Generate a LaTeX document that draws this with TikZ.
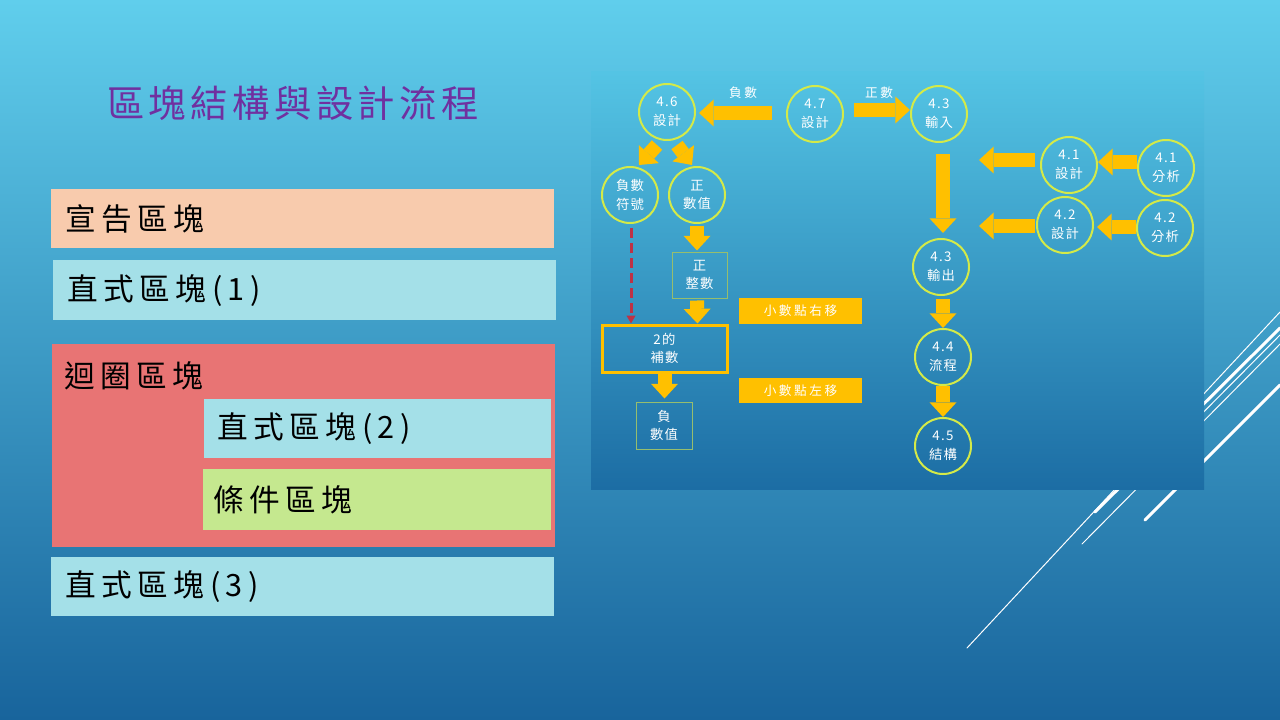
\documentclass[tikz,border=0pt]{standalone}
\usepackage{fontspec}
\setmainfont{Noto Sans CJK TC}
\newfontfamily\cjkBox[LetterSpace=18]{Noto Sans CJK TC}
\newfontfamily\cjkTitle[LetterSpace=12]{Noto Sans CJK TC}
\newfontfamily\cjkSmall[LetterSpace=10]{Noto Sans CJK TC}
\newfontfamily\cjkLab[LetterSpace=20]{Noto Sans CJK TC}
\usetikzlibrary{arrows.meta,calc}
\definecolor{bgtop}{RGB}{96,206,236}
\definecolor{bgmid}{RGB}{54,152,202}
\definecolor{bgbot}{RGB}{24,100,156}
\definecolor{pantop}{RGB}{84,196,228}
\definecolor{panbot}{RGB}{28,109,164}
\definecolor{peach}{RGB}{248,203,173}
\definecolor{lcyan}{RGB}{164,224,232}
\definecolor{salmon}{RGB}{232,116,116}
\definecolor{lgreen}{RGB}{197,232,143}
\definecolor{titlec}{RGB}{112,48,160}
\definecolor{arrowc}{RGB}{255,192,0}
\definecolor{ringc}{RGB}{212,234,72}
\definecolor{thinedge}{RGB}{150,190,110}
\definecolor{dashc}{RGB}{190,50,70}
\tikzset{
  blk/.style={rectangle, inner sep=0pt, anchor=north west, align=left, text=black,
    font=\cjkBox\fontsize{23pt}{27pt}\selectfont},
  circ/.style={circle, draw=ringc, line width=1.5pt, minimum size=42pt, inner sep=0pt,
    text=white, align=center, font=\cjkSmall\fontsize{10pt}{14pt}\selectfont},
  sbox/.style={rectangle, draw=thinedge, line width=0.75pt, inner sep=0pt,
    text=white, align=center, font=\cjkSmall\fontsize{10pt}{14pt}\selectfont},
  olab/.style={rectangle, fill=arrowc, inner sep=0pt, minimum width=92.25pt, minimum height=19.5pt,
    text=white, font=\cjkLab\fontsize{9.5pt}{12pt}\selectfont},
  tlab/.style={text=white, inner sep=0pt, font=\cjkLab\fontsize{9.5pt}{12pt}\selectfont},
  barrow/.style={draw=arrowc, line width=10.5pt,
    -{Triangle[width=20.25pt,length=11pt,line width=0pt]}},
  deco/.style={draw=white, line cap=round},
}
\begin{document}
\begin{tikzpicture}[x=0.75pt,y=-0.75pt]
\useasboundingbox (0,0) rectangle (1280,720);
\shade[top color=bgtop, middle color=bgmid, bottom color=bgbot] (0,0) rectangle (1280,720);

% decorative lines
\draw[deco, line width=0.75pt] (967,648) -- (1280,312);
\draw[deco, line width=2.25pt] (1145,520) -- (1280,385);
\draw[deco, line width=2.25pt] (1095,512) -- (1280,328);
\draw[deco, line width=0.75pt] (1082,544) -- (1280,344);
\draw[deco, line width=0.75pt] (1150,466) -- (1280,335);

% diagram panel
\shade[top color=pantop, bottom color=panbot] (591,72) rectangle (1204,489);

% title
\node[text=titlec, font=\cjkTitle\fontsize{28pt}{32pt}\selectfont] (title) at (293,103) {區塊結構與設計流程};

% left blocks
\node[blk, fill=peach, minimum width=377.25pt, minimum height=44.25pt, text width=356.25pt, inner xsep=10.5pt]
  (decl) at (51,189) {宣告區塊};
\node[blk, fill=lcyan, minimum width=377.25pt, minimum height=45pt, text width=356.25pt, inner xsep=10.5pt]
  (seq1) at (53,260) {直式區塊(1)};
\node[blk, fill=salmon, minimum width=377.25pt, minimum height=152.25pt] (loop) at (52,344) {};
\node[blk, anchor=west] (looplbl) at (64,376) {迴圈區塊};
\node[blk, fill=lcyan, minimum width=260.25pt, minimum height=44.25pt, text width=240.75pt, inner xsep=9.75pt]
  (seq2) at (204,399) {直式區塊(2)};
\node[blk, fill=lgreen, minimum width=261pt, minimum height=45.75pt, text width=246pt, inner xsep=7.5pt]
  (cond) at (203,469) {條件區塊};
\node[blk, fill=lcyan, minimum width=377.25pt, minimum height=44.25pt, text width=356.25pt, inner xsep=10.5pt]
  (seq3) at (51,557) {直式區塊(3)};

% diagram nodes
\node[circ] (n46) at (667,112) {4.6\\設計};
\node[circ] (n47) at (815,114) {4.7\\設計};
\node[circ] (n43in) at (939,114) {4.3\\輸入};
\node[circ] (n41d) at (1069,165) {4.1\\設計};
\node[circ] (n41a) at (1166,168) {4.1\\分析};
\node[circ] (n42d) at (1065,225) {4.2\\設計};
\node[circ] (n42a) at (1165,228) {4.2\\分析};
\node[circ] (n43out) at (941,267) {4.3\\輸出};
\node[circ] (n44) at (943,357) {4.4\\流程};
\node[circ] (n45) at (943,446) {4.5\\結構};
\node[circ] (nneg) at (630,195) {負數\\符號};
\node[circ] (npos) at (697,195) {正\\數值};

\node[sbox, minimum width=41.25pt, minimum height=34.5pt] (nint) at (699.5,275) {正\\整數};
\node[rectangle, draw=arrowc, line width=2.25pt, minimum width=93.75pt, minimum height=35.25pt,
  inner sep=0pt, text=white, align=center, font=\cjkSmall\fontsize{10pt}{14pt}\selectfont]
  (ncomp) at (664.5,348.5) {2的\\補數};
\node[sbox, minimum width=42pt, minimum height=35.25pt] (nnegv) at (664,425.5) {負\\數值};

\node[olab] (lright) at (800.5,311) {小數點右移};
\node[olab, minimum height=18.75pt] (lleft) at (800.5,390.5) {小數點左移};

\node[tlab] (tneg) at (743,93) {負數};
\node[tlab] (tpos) at (879,93) {正數};

\coordinate (l41) at (979,160);
\coordinate (l42) at (979,226);

% arrows
\draw[barrow] ($(n47.west)+(-14,-1)$) -- ($(n46.east)+(3,1)$);
\draw[barrow] ($(n47.east)+(10,-4)$) -- ($(n43in.west)+(0,-4)$);
\draw[barrow] ($(n43in.south)+(4,11)$) -- ($(n43out.north)+(2,-5)$);
\draw[barrow] ($(n41a.west)+(0,-6)$) -- ($(n41d.east)+(0,-3)$);
\draw[barrow] ($(n41d.west)+(-5,-5)$) -- (l41);
\draw[barrow] ($(n42a.west)+(0,-1)$) -- ($(n42d.east)+(3,2)$);
\draw[barrow] ($(n42d.west)+(-1,1)$) -- (l42);
\draw[barrow] ($(n43out.south)+(2,3)$) -- (n44.north);
\draw[barrow] (n44.south) -- (n45.north);
\draw[barrow] ($(n46.south)+(-10,4)$) -- ($(nneg.north)+(9,-1)$);
\draw[barrow] ($(n46.south)+(10,4)$) -- ($(npos.north)+(-5,-1)$);
\draw[barrow] ($(npos.south)+(0,2)$) -- ($(nint.north)+(-2.5,-1)$);
\draw[barrow] ($(nint.south)+(-2.5,2)$) -- ($(ncomp.north)+(33,0)$);
\draw[barrow] (ncomp.south) -- ($(nnegv.north)+(0.5,-3)$);
\draw[draw=dashc, line width=2.25pt, dash pattern=on 7.5pt off 3.75pt,
  -{Triangle[width=6.5pt,length=6pt]}] ($(nneg.south)+(1,4)$) -- ($(ncomp.north)+(-33.5,0)$);
\end{tikzpicture}
\end{document}
